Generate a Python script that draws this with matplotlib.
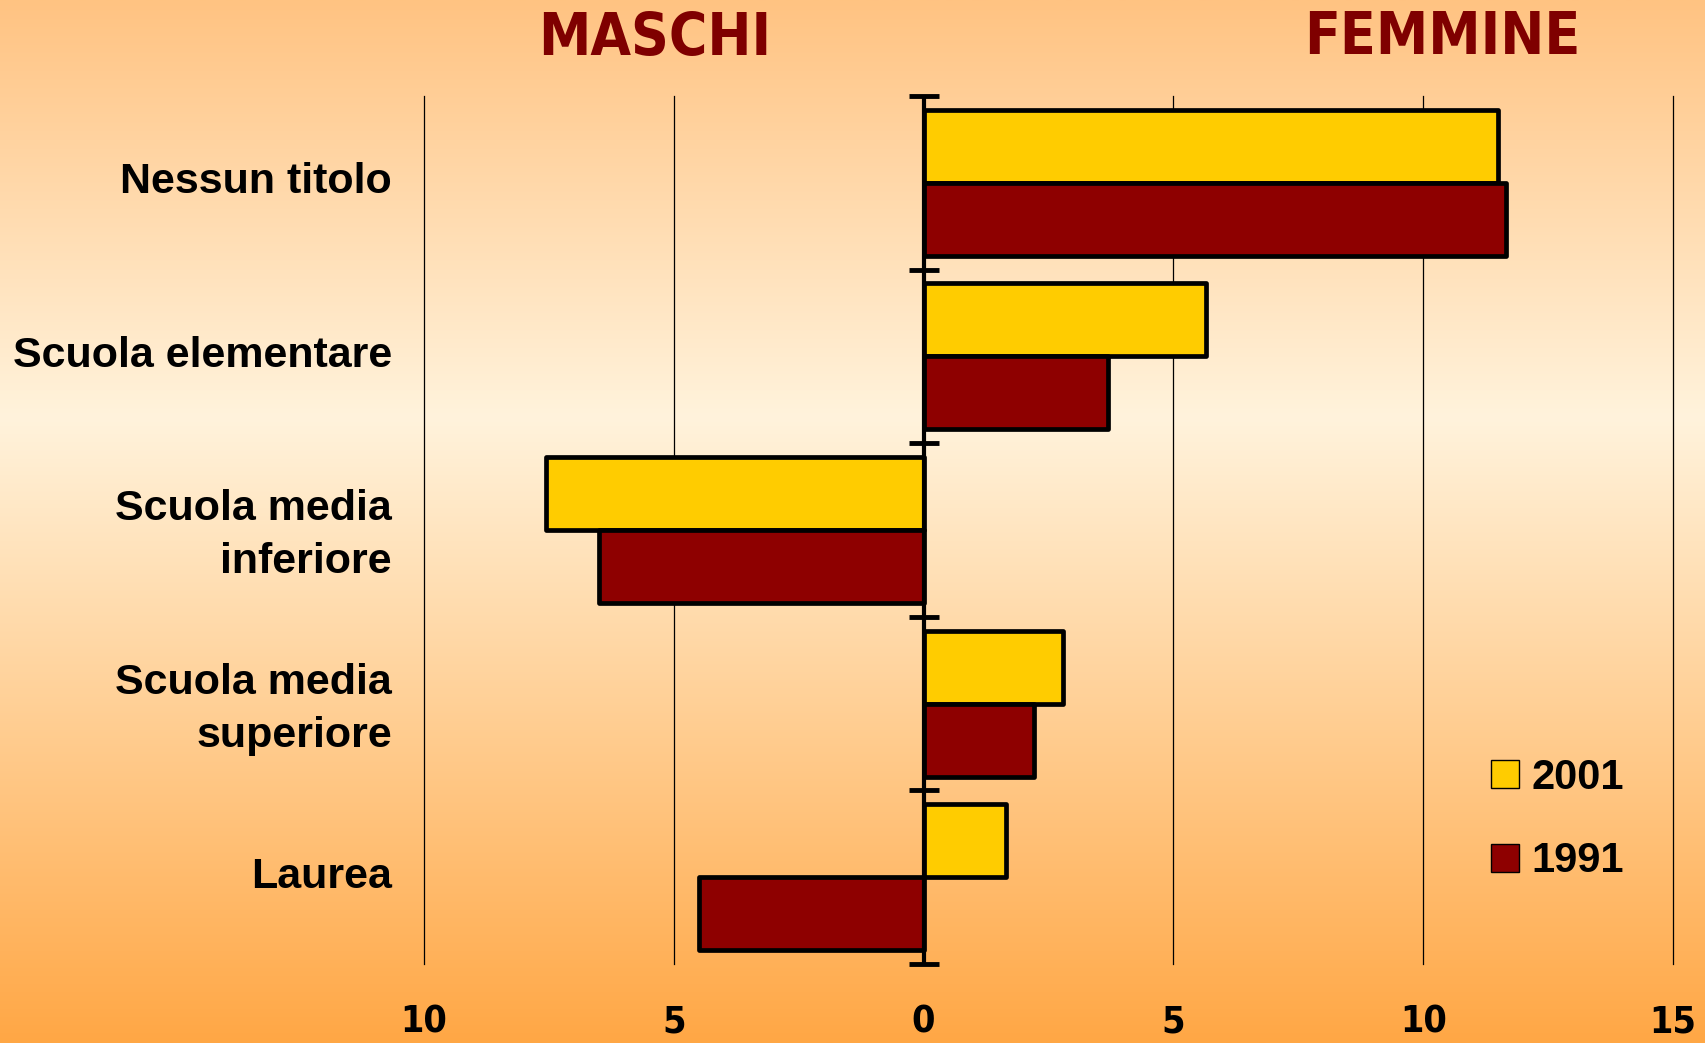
import numpy as np
import matplotlib
matplotlib.use("Agg")
import matplotlib.pyplot as plt
import matplotlib.transforms as mtransforms
from matplotlib.patches import Patch

categories = ["Nessun titolo", "Scuola elementare", "Scuola media\ninferiore",
              "Scuola media\nsuperiore", "Laurea"]
values_2001 = [11.5, 5.65, -7.55, 2.8, 1.65]
values_1991 = [11.65, 3.7, -6.5, 2.2, -4.5]
series_labels = ["2001", "1991"]
xtick_values = [-10, -5, 0, 5, 10, 15]
xtick_labels = ["10", "5", "0", "5", "10", "15"]
side_titles = ["MASCHI", "FEMMINE"]

col_2001 = "#FFCC00"
col_1991 = "#8E0000"
title_col = "#7F0000"

W, H = 1706, 1043
fig = plt.figure(figsize=(W / 100, H / 100), dpi=100)

# background gradient
bg = fig.add_axes([0, 0, 1, 1], zorder=-10)
stops_y = [0.0, 0.40, 1.0]
stops_c = [(0xFF, 0xC3, 0x82), (0xFF, 0xF3, 0xDC), (0xFF, 0xA7, 0x45)]
ys = np.linspace(0, 1, 400)
grad = np.zeros((400, 1, 3))
for k in range(3):
    grad[:, 0, k] = np.interp(ys, stops_y, [c[k] / 255 for c in stops_c])
bg.imshow(grad, aspect="auto", extent=[0, 1, 1, 0], interpolation="bilinear")
bg.set_xlim(0, 1)
bg.set_ylim(1, 0)
bg.axis("off")

ax = fig.add_axes([424 / W, 1 - 964 / H, (1673 - 424) / W, (964 - 96) / H])
ax.set_facecolor("none")

n = len(categories)
y = np.arange(n)
h = 0.42
ax.barh(y - h / 2, values_2001, height=h, color=col_2001, edgecolor="black",
        linewidth=3.4, zorder=3, joinstyle="round")
ax.barh(y + h / 2, values_1991, height=h, color=col_1991, edgecolor="black",
        linewidth=3.4, zorder=3, joinstyle="round")

ax.set_xlim(-10, 15)
ax.set_ylim(n - 0.5, -0.5)
ax.set_xticks(xtick_values)
ax.set_xticklabels(xtick_labels, fontsize=27, fontweight="bold",
                   family="DejaVu Sans", fontstretch="condensed")
ax.set_yticks(y)
ax.set_yticklabels(categories, fontsize=31, fontweight="bold",
                   family=["Liberation Sans", "DejaVu Sans"], ha="right",
                   linespacing=1.4)
ax.tick_params(axis="x", length=0, pad=29)
ax.tick_params(axis="y", length=0, pad=23)
shift = mtransforms.ScaledTranslation(0, 5 / 100, fig.dpi_scale_trans)
for lab in ax.get_yticklabels():
    lab.set_transform(lab.get_transform() + shift)
for s in ax.spines.values():
    s.set_visible(False)
ax.set_axisbelow(True)
ax.grid(axis="x", color="black", linewidth=0.9)
ax.grid(axis="y", visible=False)
for gl in ax.get_xgridlines():
    gl.set_clip_on(False)

# zero axis with boundary ticks
ax.axvline(0, color="black", linewidth=3, zorder=5, solid_capstyle="butt")
bounds = np.arange(n + 1) - 0.5
ax.plot(np.zeros(n + 1), bounds, linestyle="none", marker="_", markersize=21,
        markeredgewidth=3.5, color="black", zorder=6, clip_on=False,
        solid_capstyle="round")

# side titles
fig.text(655 / W, 1 - 38 / H, side_titles[0], ha="center", va="center",
         fontsize=42, fontweight="bold", color=title_col,
         family="DejaVu Sans", fontstretch="condensed")
fig.text(1442 / W, 1 - 38 / H, side_titles[1], ha="center", va="center",
         fontsize=42, fontweight="bold", color=title_col,
         family="DejaVu Sans", fontstretch="condensed")

handles = [Patch(facecolor=col_2001, edgecolor="black", linewidth=1),
           Patch(facecolor=col_1991, edgecolor="black", linewidth=1)]
leg = fig.legend(handles, series_labels, loc="center left",
                 bbox_to_anchor=(1491 / W, 1 - 819.5 / H), frameon=False,
                 prop={"family": "Liberation Sans", "weight": "bold", "size": 30},
                 handlelength=0.67, handleheight=0.67, handletextpad=0.3,
                 labelspacing=1.05, borderpad=0, borderaxespad=0)

fig.savefig("out.png", dpi=100)
